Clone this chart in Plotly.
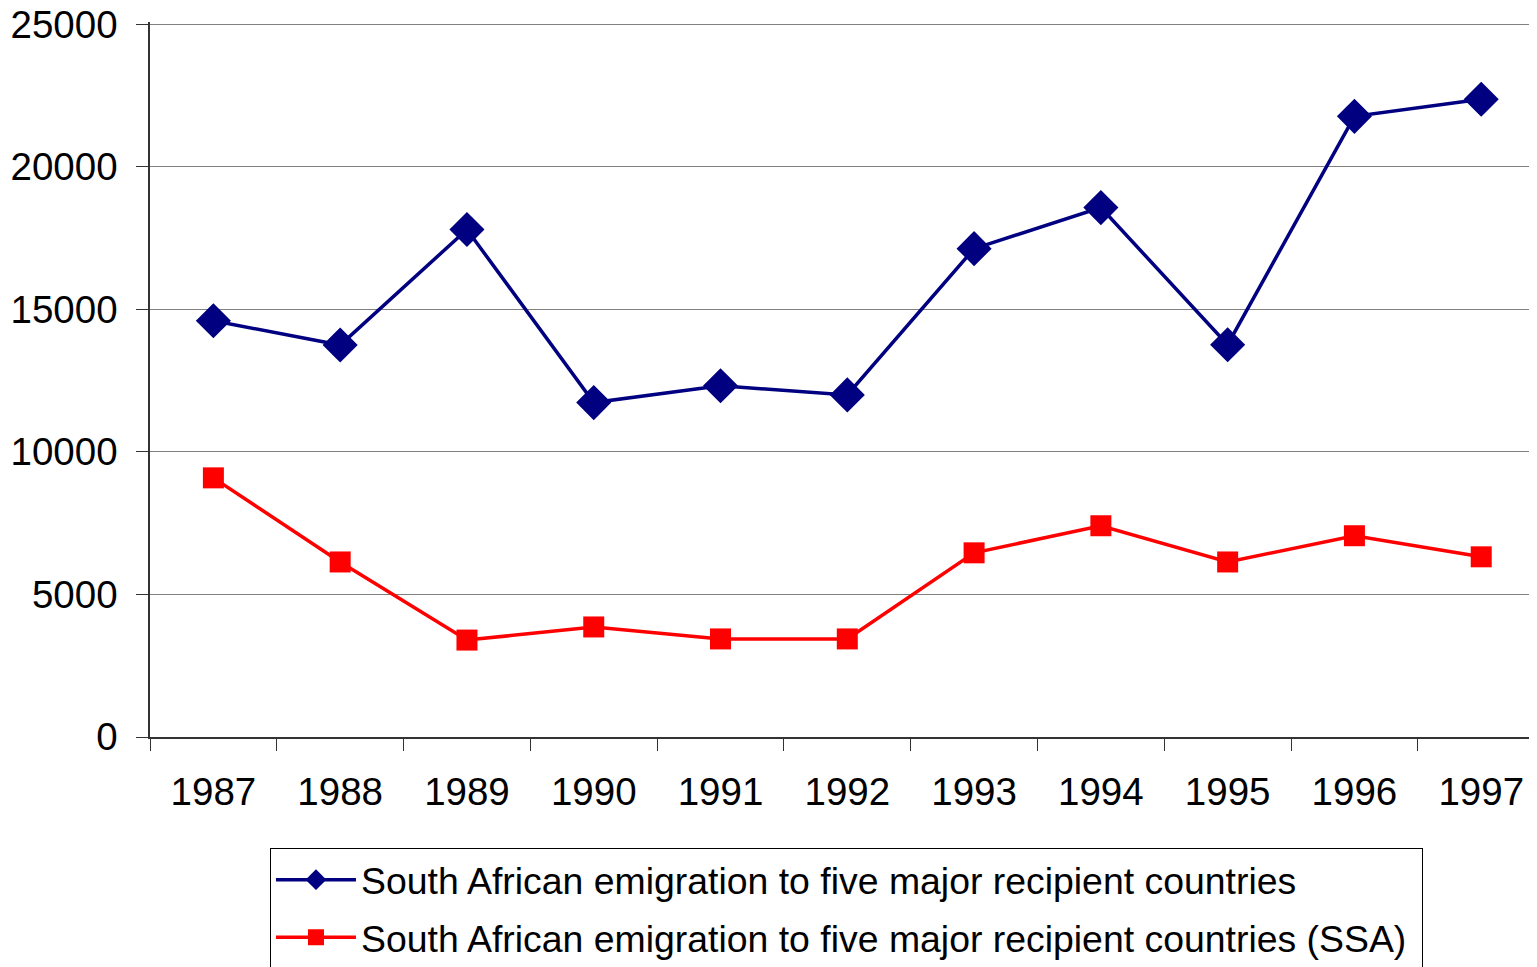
import plotly.graph_objects as go

years = ["1987", "1988", "1989", "1990", "1991", "1992",
         "1993", "1994", "1995", "1996", "1997"]
five_major = [14600, 13750, 17800, 11730, 12320, 12000,
              17130, 18570, 13760, 21770, 22370]
five_major_ssa = [9090, 6140, 3400, 3860, 3440, 3440,
                  6460, 7410, 6140, 7060, 6320]

font = "Liberation Sans, Arial, sans-serif"

fig = go.Figure()
fig.add_trace(go.Scatter(
    x=years, y=five_major, mode="lines+markers",
    name="South African emigration to five major recipient countries",
    legendgroup="a",
    line=dict(color="#000080", width=3.5),
    marker=dict(symbol="diamond", size=27, color="#000080"),
))
fig.add_trace(go.Scatter(
    x=years, y=five_major_ssa, mode="lines+markers",
    name="South African emigration to five major recipient countries (SSA)\u00a0",
    legendgroup="b",
    line=dict(color="#ff0000", width=3.5),
    marker=dict(symbol="square", size=21, color="#ff0000"),
))

# page has an 8px body margin, so the figure is shifted accordingly
fig.update_layout(
    width=1529, height=959,
    margin=dict(l=142, r=0, t=14, b=230, autoexpand=False),
    paper_bgcolor="white", plot_bgcolor="white",
    font=dict(family=font, size=38.5, color="black"),
    showlegend=True,
    legend=dict(
        x=0.0865, xanchor="left", y=-0.155, yanchor="top",
        bordercolor="black", borderwidth=1,
        font=dict(size=37.4),
        itemsizing="trace", itemwidth=80,
        tracegroupgap=6,
    ),
)
fig.update_xaxes(
    type="category", range=[-0.5, 10.44],
    showline=True, linecolor="#333333", linewidth=1.5,
    ticks="outside", ticklen=12, tickcolor="#333333", tickson="boundaries",
    showgrid=False, ticklabelstandoff=20,
)
# a little headroom so the 25000 gridline and label are not clipped
fig.update_yaxes(
    range=[0, 25080], tickvals=[0, 5000, 10000, 15000, 20000, 25000],
    tickformat="d", ticklabeloverflow="allow",
    showline=True, linecolor="#333333", linewidth=1.5,
    ticks="outside", ticklen=12, tickcolor="#333333",
    showgrid=True, gridcolor="#808080", gridwidth=1,
    zeroline=False, ticklabelstandoff=11,
)

fig.write_html("out.html")
